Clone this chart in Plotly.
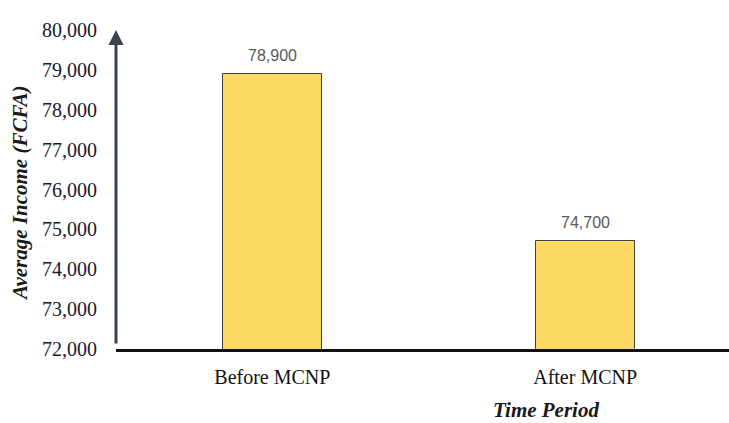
import plotly.graph_objects as go

categories = ["Before MCNP", "After MCNP"]
income = [78900, 74700]
y_ticks = [72000, 73000, 74000, 75000, 76000, 77000, 78000, 79000, 80000]
y_tick_labels = [f"{v:,}" for v in y_ticks]

W, H = 729, 423
L, B, T = 116, 74, 30
fig = go.Figure()
fig.add_trace(go.Bar(
    x=categories, y=income, width=0.316,
    marker=dict(color="#FDD865", line=dict(color="#404040", width=1)),
    hoverinfo="skip",
))

for c, v in zip(categories, income):
    fig.add_annotation(x=c, y=v, xref="x", yref="y", text=f"{v:,}", showarrow=False,
                       yanchor="bottom", yshift=8,
                       font=dict(family="Liberation Sans", size=16, color="#595959"))

# y axis with arrow
fig.add_annotation(x=0, y=1, xref="paper", yref="paper", ax=0, ay=315, axref="pixel", ayref="pixel",
                   showarrow=True, arrowhead=2, arrowsize=1, arrowwidth=3, arrowcolor="#3A4350", text="")

fig.add_annotation(x=(20 - L) / (W - L), y=(H - B - 193) / (H - B - T), xref="paper", yref="paper",
                   xanchor="center", yanchor="middle",
                   text="<b><i>Average Income (FCFA)</i></b>",
                   textangle=-90, showarrow=False,
                   font=dict(family="Liberation Serif", size=21, color="#1a1a1a"))
fig.add_annotation(x=(546 - L) / (W - L), y=-(410 - (H - B)) / (H - B - T), xref="paper", yref="paper",
                   xanchor="center", yanchor="middle",
                   text="<b><i>Time Period</i></b>", showarrow=False,
                   font=dict(family="Liberation Serif", size=21, color="#1a1a1a"))

fig.update_layout(
    width=W, height=H, margin=dict(l=L, r=0, t=T, b=B),
    paper_bgcolor="white", plot_bgcolor="white", showlegend=False,
    bargap=0.0,
    xaxis=dict(range=[-0.5, 1.46], showline=True, linecolor="#111111", linewidth=3,
               ticks="", showgrid=False, zeroline=False,
               tickfont=dict(family="Liberation Serif", size=20, color="#111111"),
               ticklabelstandoff=8),
    yaxis=dict(range=[72000, 80000], tickvals=y_ticks, ticktext=y_tick_labels,
               showline=False, ticks="", showgrid=False, zeroline=False,
               tickfont=dict(family="Liberation Serif", size=20, color="#1a1a2e"),
               ticklabelstandoff=18),
)
fig.write_html("out.html")
